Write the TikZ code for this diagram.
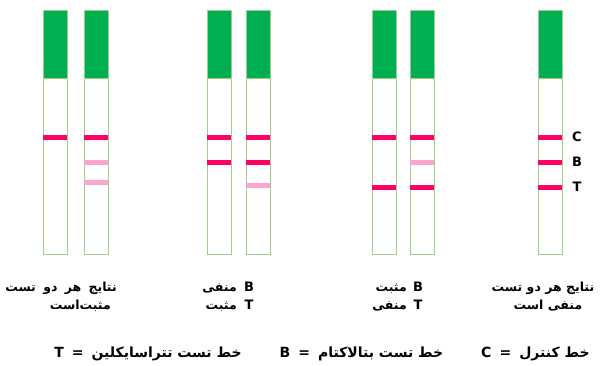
\documentclass[tikz,border=0pt]{standalone}
\usepackage{fontspec}
\setmainfont{DejaVu Sans}
\newfontfamily\farsi[Script=Arabic]{DejaVu Sans}
\TeXXeTstate=1
\definecolor{stripgreen}{RGB}{0,176,80}
\definecolor{rimgreen}{RGB}{160,205,140}
\definecolor{bandred}{RGB}{255,0,102}
\definecolor{bandpale}{RGB}{250,165,205}
\tikzset{
    stripbox/.style={draw=rimgreen, line width=0.9pt, fill=white} }
\tikzset{
    greentop/.style={draw=rimgreen, line width=0.9pt, fill=stripgreen} }
\tikzset{
    bandline/.style={bandred, line width=5pt} }
\tikzset{
    paleline/.style={bandpale, line width=5pt} }
\tikzset{
    farsitext/.style={font=\farsi\bfseries\fontsize{12.5}{15}\selectfont, inner sep=0pt} }
\tikzset{
    keytext/.style={font=\farsi\bfseries\fontsize{14}{16}\selectfont, inner sep=0pt} }
\tikzset{
    lettertext/.style={font=\bfseries\fontsize{13}{15}\selectfont, inner sep=0pt} }
\newcommand{\eqgap}{\hspace{8pt}=\hspace{8pt}}

\begin{document}
\begin{tikzpicture}[x=1pt,y=-1pt]
  \useasboundingbox [fill=white] (0,0) rectangle (614,365);

% strips, left to right
  \filldraw [stripbox] (43,10) rectangle (67,254);   \filldraw [greentop] (43,10) rectangle (67,78);
  \filldraw [stripbox] (84,10) rectangle (108,254);  \filldraw [greentop] (84,10) rectangle (108,78);
  \filldraw [stripbox] (207,10) rectangle (231,254); \filldraw [greentop] (207,10) rectangle (231,78);
  \filldraw [stripbox] (246,10) rectangle (270,254); \filldraw [greentop] (246,10) rectangle (270,78);
  \filldraw [stripbox] (372,10) rectangle (396,254); \filldraw [greentop] (372,10) rectangle (396,78);
  \filldraw [stripbox] (410,10) rectangle (434,254); \filldraw [greentop] (410,10) rectangle (434,78);
  \filldraw [stripbox] (538,10) rectangle (562,254); \filldraw [greentop] (538,10) rectangle (562,78);

% bands
  \draw [bandline] (43,137) -- (67,137);
  \draw [bandline] (84,137) -- (108,137); \draw [paleline] (84,162) -- (108,162); \draw [paleline] (84,182) -- (108,182);
  \draw [bandline] (207,137) -- (231,137); \draw [bandline] (207,162) -- (231,162);
  \draw [bandline] (246,137) -- (270,137); \draw [bandline] (246,162) -- (270,162); \draw [paleline] (246,185) -- (270,185);
  \draw [bandline] (372,137) -- (396,137); \draw [bandline] (372,187) -- (396,187);
  \draw [bandline] (410,137) -- (434,137); \draw [paleline] (410,162) -- (434,162); \draw [bandline] (410,187) -- (434,187);
  \draw [bandline] (538,137) -- (562,137); \draw [bandline] (538,162) -- (562,162); \draw [bandline] (538,187) -- (562,187);

  \draw (577,137) node [lettertext] (markC) {C};
  \draw (577,162) node [lettertext] (markB) {B};
  \draw (577,187) node [lettertext] (markT) {T};

% results under the strips
  \draw (117,291) node [farsitext, anchor=base east] (bothPosA) {\beginR نتایج\hspace{3pt} هر\hspace{3pt} دو\hspace{3pt} تست\endR};
  \draw (111,309) node [farsitext, anchor=base east] (bothPosB) {\beginR مثبت‌است\endR};

  \draw (249,291) node [lettertext, anchor=base] (negB) {B};  \draw (237,291) node [farsitext, anchor=base east] (negBtxt) {\beginR منفی\endR};
  \draw (249,309) node [lettertext, anchor=base] (posT) {T};  \draw (237,309) node [farsitext, anchor=base east] (posTtxt) {\beginR مثبت\endR};

  \draw (418,291) node [lettertext, anchor=base] (posB) {B};  \draw (407,291) node [farsitext, anchor=base east] (posBtxt) {\beginR مثبت\endR};
  \draw (418,309) node [lettertext, anchor=base] (negT) {T};  \draw (407,309) node [farsitext, anchor=base east] (negTtxt) {\beginR منفی\endR};

  \draw (543,291) node [farsitext, anchor=base] (bothNegA) {\beginR نتایج هر دو تست\endR};
  \draw (548,309) node [farsitext, anchor=base] (bothNegB) {\beginR منفی است\endR};

% key
  \draw (322,357) node [keytext, anchor=base] (legend) {\beginR خط کنترل\eqgap C\hspace{38pt}خط تست بتالاکتام\eqgap B\hspace{38pt}خط تست تتراسایکلین\eqgap T\endR};
\end{tikzpicture}
\end{document}
